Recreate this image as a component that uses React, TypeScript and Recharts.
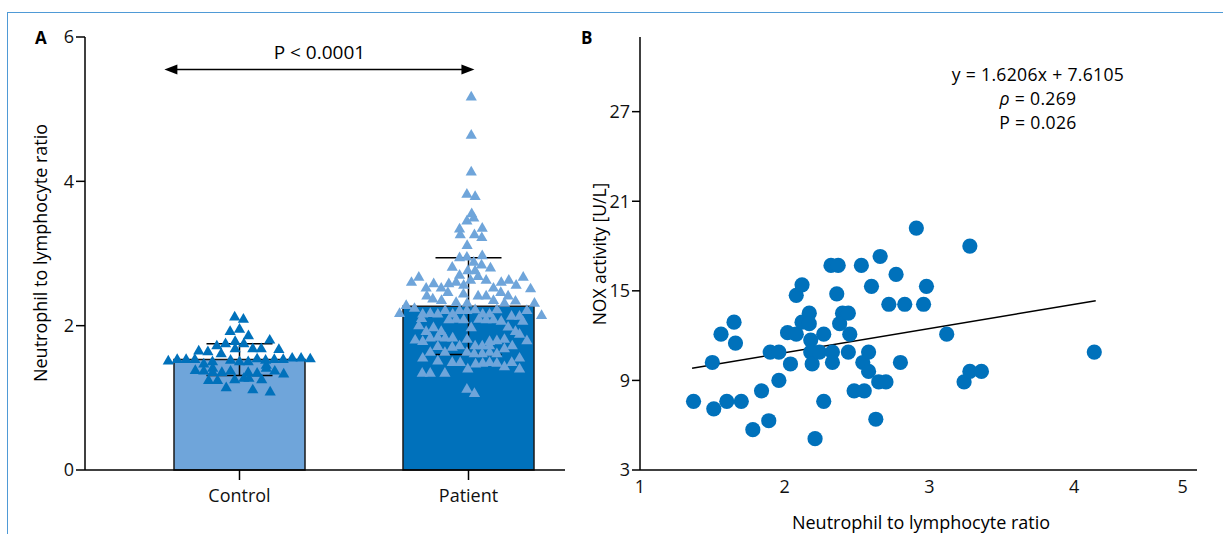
import { Bar, Cell, ComposedChart, ErrorBar, ReferenceLine, Scatter, ScatterChart, XAxis, YAxis } from 'recharts';

const groups = ['Control', 'Patient'];
const groupMeans = [1.53, 2.27];
const groupSd = [0.22, 0.67];

// [horizontal jitter, NLR value]
const controlPoints: [number, number][] = [
  [-0.021, 2.13], [0.017, 2.1], [-0.041, 1.93], [0, 1.96], [0.039, 1.87], [0.132, 1.81],
  [-0.061, 1.76], [-0.099, 1.73], [-0.019, 1.79], [0.019, 1.76], [-0.178, 1.66], [-0.138, 1.65],
  [-0.08, 1.62], [-0.019, 1.69], [0.058, 1.69], [0.095, 1.69], [0.172, 1.68], [-0.311, 1.52],
  [-0.272, 1.54], [-0.233, 1.54], [-0.195, 1.54], [-0.118, 1.51], [-0.039, 1.53], [0, 1.51],
  [0.038, 1.51], [0.077, 1.55], [0.114, 1.53], [0.152, 1.54], [0.191, 1.54], [0.23, 1.56],
  [0.269, 1.56], [0.309, 1.55], [-0.156, 1.48], [0.117, 1.46], [-0.193, 1.39], [-0.156, 1.38],
  [-0.117, 1.42], [-0.077, 1.36], [-0.039, 1.38], [0.038, 1.36], [0.077, 1.35], [0.117, 1.42],
  [0.193, 1.34], [0.154, 1.38], [-0.135, 1.25], [-0.096, 1.25], [-0.021, 1.26], [0.019, 1.28],
  [0.041, 1.28], [0.097, 1.26], [-0.058, 1.15], [0.058, 1.12], [0.134, 1.09], [-0.117, 1.36],
];

const patientPoints: [number, number][] = [
  [0.012, 5.18], [0.012, 4.65], [0.012, 4.14], [-0.007, 3.83], [0.029, 3.8], [0.014, 3.56],
  [-0.007, 3.46], [0.023, 3.5], [-0.039, 3.35], [-0.036, 3.27], [0.06, 3.36], [0.026, 3.27],
  [0.058, 3.23], [-0.006, 3.12], [-0.039, 2.95], [-0.007, 2.96], [0.06, 2.98], [0.023, 2.89],
  [-0.071, 2.82], [0.057, 2.85], [0.096, 2.81], [-0.003, 2.77], [0.029, 2.77], [-0.039, 2.71],
  [0.042, 2.69], [-0.217, 2.68], [-0.249, 2.61], [0.239, 2.68], [0.077, 2.64], [0.009, 2.64],
  [-0.054, 2.61], [-0.152, 2.59], [-0.086, 2.59], [0.143, 2.61], [0.176, 2.64], [0.208, 2.57],
  [-0.185, 2.53], [-0.119, 2.53], [-0.021, 2.57], [0.109, 2.53], [0.271, 2.52], [-0.182, 2.42],
  [-0.09, 2.47], [-0.022, 2.45], [0.042, 2.42], [0.077, 2.42], [0.141, 2.47], [0.173, 2.42],
  [-0.156, 2.38], [-0.118, 2.36], [0.109, 2.36], [0.205, 2.35], [-0.054, 2.33], [-0.006, 2.32],
  [0.157, 2.32], [0.288, 2.32], [-0.272, 2.29], [-0.236, 2.25], [0.255, 2.22], [-0.301, 2.18],
  [0.319, 2.15], [-0.2, 2.17], [-0.167, 2.18], [-0.134, 2.17], [-0.102, 2.22], [-0.069, 2.17],
  [-0.039, 2.22], [-0.007, 2.22], [0.029, 2.23], [0.062, 2.17], [0.092, 2.17], [0.124, 2.23],
  [0.188, 2.14], [0.223, 2.14], [-0.205, 2.11], [-0.086, 2.09], [-0.054, 2.1], [-0.021, 2.09],
  [0.045, 2.1], [0.077, 2.09], [0.109, 2.09], [0.143, 2.07], [0.237, 2.07], [-0.217, 2.01],
  [-0.153, 1.98], [0.012, 1.98], [0.173, 1.99], [-0.185, 1.93], [-0.119, 1.93], [0.205, 1.93],
  [0.223, 1.89], [-0.233, 1.81], [-0.2, 1.79], [-0.167, 1.84], [-0.134, 1.85], [-0.102, 1.84],
  [-0.069, 1.84], [-0.006, 1.82], [0.092, 1.79], [0.124, 1.8], [0.157, 1.82], [0.255, 1.8],
  [-0.134, 1.72], [-0.071, 1.71], [-0.039, 1.73], [0.029, 1.73], [0.06, 1.73], [0.092, 1.73],
  [0.191, 1.73], [-0.167, 1.64], [-0.103, 1.64], [-0.007, 1.64], [0.025, 1.62], [0.06, 1.62],
  [0.092, 1.64], [0.124, 1.62], [0.157, 1.69], [-0.2, 1.56], [-0.134, 1.52], [-0.071, 1.5],
  [-0.036, 1.5], [0.031, 1.48], [0.062, 1.49], [0.092, 1.5], [0.124, 1.49], [0.157, 1.44],
  [0.189, 1.5], [0.223, 1.56], [0.223, 1.41], [-0.003, 1.41], [-0.202, 1.35], [-0.167, 1.35],
  [-0.103, 1.35], [-0.007, 1.13], [0.026, 1.07],
];

// [NLR, NOX activity U/L]
const noxPoints: [number, number][] = [
  [1.37, 7.6], [1.5, 10.2], [1.51, 7.1], [1.56, 12.1], [1.6, 7.6], [1.65, 12.9], [1.66, 11.5],
  [1.7, 7.6], [1.78, 5.7], [1.84, 8.3], [1.89, 6.3], [1.9, 10.9], [1.96, 10.9], [1.96, 9.0],
  [2.02, 12.2], [2.04, 10.1], [2.08, 14.7], [2.08, 12.1], [2.12, 15.4], [2.12, 12.9],
  [2.17, 13.5], [2.17, 12.8], [2.18, 11.7], [2.18, 10.9], [2.19, 10.1], [2.21, 5.1],
  [2.24, 10.9], [2.27, 12.1], [2.27, 7.6], [2.32, 16.7], [2.33, 10.9], [2.33, 10.2],
  [2.37, 16.7], [2.36, 14.8], [2.4, 13.5], [2.38, 12.8], [2.44, 13.5], [2.45, 12.1],
  [2.44, 10.9], [2.48, 8.3], [2.53, 16.7], [2.54, 10.2], [2.55, 8.3], [2.58, 10.9],
  [2.58, 9.6], [2.6, 15.3], [2.63, 6.4], [2.65, 8.9], [2.66, 17.3], [2.7, 8.9], [2.72, 14.1],
  [2.77, 16.1], [2.8, 10.2], [2.83, 14.1], [2.91, 19.2], [2.96, 14.1], [2.98, 15.3],
  [3.12, 12.1], [3.24, 8.9], [3.28, 9.6], [3.28, 18.0], [3.36, 9.6], [4.14, 10.9],
];

const regSlope = 1.6206;
const regIntercept = 7.6105;
const regFrom = 1.36;
const regTo = 4.15;

const yTicksA = [0, 2, 4, 6];
const yTicksB = [3, 9, 15, 21, 27];
const xTicksB = [1, 2, 3, 4, 4.75];

const DARK = '#0071bb';
const LIGHT = '#6fa5da';
const FONT = '"Open Sans", "Noto Sans", sans-serif';

const barData = groups.map((name, i) => ({ name, mean: groupMeans[i], sd: groupSd[i] }));
const controlData = controlPoints.map(([dx, y]) => ({ x: 1 + dx, y }));
const patientData = patientPoints.map(([dx, y]) => ({ x: 2 + dx, y }));
const noxData = noxPoints.map(([x, y]) => ({ x, y }));

const Triangle = (props: any) => {
  const { cx, cy, fill } = props;
  return <polygon points={`${cx},${cy - 5.5} ${cx + 5.6},${cy + 4.2} ${cx - 5.6},${cy + 4.2}`} fill={fill} />;
};

const Dot = (props: any) => <circle cx={props.cx} cy={props.cy} r={7.6} fill={DARK} />;

const Arrow = (props: any) => {
  const { x1, y1, x2, y2 } = props;
  return (
    <g>
      <line x1={x1 + 8} y1={y1} x2={x2 - 8} y2={y2} stroke="#000" strokeWidth={1.5} />
      <polygon points={`${x1},${y1} ${x1 + 13},${y1 - 5} ${x1 + 13},${y1 + 5}`} fill="#000" />
      <polygon points={`${x2},${y2} ${x2 - 13},${y2 - 5} ${x2 - 13},${y2 + 5}`} fill="#000" />
      <text x={(x1 + x2) / 2} y={y1 - 10} textAnchor="middle" fontSize={19} fontFamily={FONT} fill="#000">
        P &lt; 0.0001
      </text>
    </g>
  );
};

const tickStyle = { fontSize: 18, fill: '#111', fontFamily: FONT };
const pad = { left: 40, right: -18 };

export default function App() {
  return (
    <div style={{ position: 'absolute', left: 0, top: 0, width: 1223, height: 534, background: '#fff', fontFamily: FONT, overflow: 'hidden' }}>
      <div style={{ position: 'absolute', left: 7, top: 12, width: 1300, height: 600, borderLeft: '1.5px solid #4f9ad6', borderTop: '1.5px solid #4f9ad6' }} />

      <div style={{ position: 'absolute', left: 35, top: 26, fontWeight: 700, fontSize: 17 }}>A</div>
      <div style={{ position: 'absolute', left: 581, top: 26, fontWeight: 700, fontSize: 17 }}>B</div>

      <div style={{ position: 'absolute', left: 40, top: 253, transform: 'translate(-50%, -50%) rotate(-90deg)', whiteSpace: 'nowrap', fontSize: 18 }}>
        Neutrophil to lymphocyte ratio
      </div>
      <div style={{ position: 'absolute', left: 599, top: 254, transform: 'translate(-50%, -50%) rotate(-90deg)', whiteSpace: 'nowrap', fontSize: 17.5 }}>
        NOX activity [U/L]
      </div>
      <div style={{ position: 'absolute', left: 921, top: 522, transform: 'translate(-50%, -50%)', whiteSpace: 'nowrap', fontSize: 18 }}>
        Neutrophil to lymphocyte ratio
      </div>
      <div style={{ position: 'absolute', left: 1038, top: 62, transform: 'translateX(-50%)', textAlign: 'center', fontSize: 17.6, lineHeight: '24px', letterSpacing: 0.3, whiteSpace: 'nowrap' }}>
        <div>y = 1.6206x + 7.6105</div>
        <div><i>ρ</i> = 0.269</div>
        <div>P = 0.026</div>
      </div>

      <div style={{ position: 'absolute', left: 0, top: 0 }}>
        <ComposedChart width={600} height={534} data={barData} margin={{ top: 37, right: 35, bottom: 34, left: 45 }}>
          <XAxis xAxisId="cat" dataKey="name" padding={pad} stroke="#000" strokeWidth={1.5} tickSize={10} tick={tickStyle} tickMargin={9} height={30} />
          <XAxis xAxisId="num" type="number" dataKey="x" domain={[0.5, 2.5]} padding={pad} hide />
          <YAxis type="number" domain={[0, 6]} ticks={yTicksA} width={40} stroke="#000" strokeWidth={1.5} tickSize={9} tick={tickStyle} />
          <Bar xAxisId="cat" dataKey="mean" barSize={131} stroke="#1a1a1a" strokeWidth={1.5} isAnimationActive={false}>
            <Cell fill={LIGHT} />
            <Cell fill={DARK} />
            <ErrorBar dataKey="sd" width={33} stroke="#000" strokeWidth={1.5} direction="y" />
          </Bar>
          <Scatter xAxisId="num" data={controlData} dataKey="y" fill={DARK} shape={Triangle} isAnimationActive={false} />
          <Scatter xAxisId="num" data={patientData} dataKey="y" fill={LIGHT} shape={Triangle} isAnimationActive={false} />
          <ReferenceLine xAxisId="num" segment={[{ x: 0.672, y: 5.55 }, { x: 2.026, y: 5.55 }]} shape={Arrow} />
        </ComposedChart>
      </div>

      <div style={{ position: 'absolute', left: 590, top: 0 }}>
        <ScatterChart width={633} height={534} margin={{ top: 37, right: 26, bottom: 34, left: 10 }}>
          <XAxis type="number" dataKey="x" domain={[1, 4.85]} ticks={xTicksB} interval={0} tickFormatter={(v: number) => String(Math.round(v))} tickLine={false} stroke="#000" strokeWidth={1.5} tick={tickStyle} tickMargin={4} height={30} allowDataOverflow />
          <YAxis type="number" dataKey="y" domain={[3, 32]} ticks={yTicksB} interval={0} width={40} stroke="#000" strokeWidth={1.5} tickSize={8} tick={tickStyle} allowDataOverflow />
          <Scatter data={noxData} fill={DARK} shape={Dot} isAnimationActive={false} />
          <ReferenceLine segment={[{ x: regFrom, y: regSlope * regFrom + regIntercept }, { x: regTo, y: regSlope * regTo + regIntercept }]} stroke="#000" strokeWidth={1.5} />
        </ScatterChart>
      </div>
    </div>
  );
}
